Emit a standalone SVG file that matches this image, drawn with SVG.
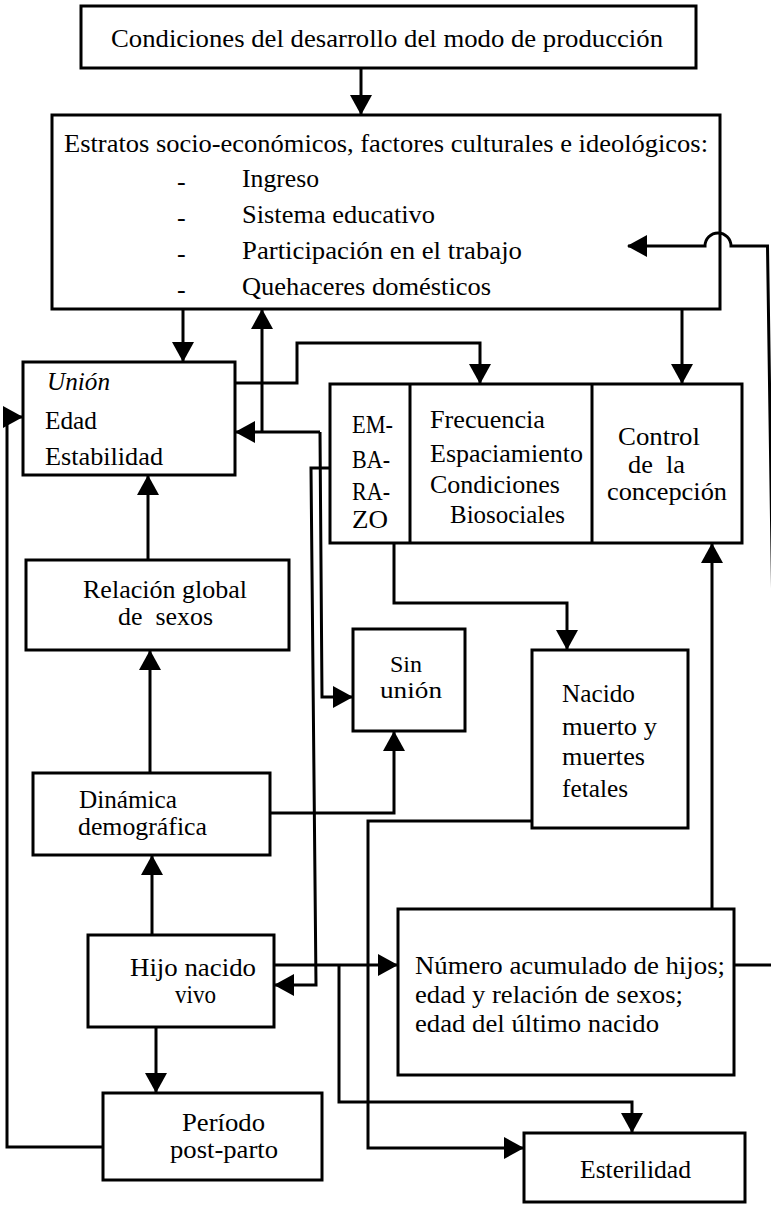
<svg xmlns="http://www.w3.org/2000/svg" width="771" height="1205" viewBox="0 0 771 1205" font-family="Liberation Serif, DejaVu Serif, serif">
<style>
.box{fill:#fff;stroke:#000;stroke-width:3}
.ln{fill:none;stroke:#000;stroke-width:3;stroke-linejoin:miter}
.ar{marker-end:url(#ah)}
text{font-family:"Liberation Serif","DejaVu Serif",serif;font-size:26px;fill:#000}
.t{font-size:25px}
.s{font-size:24px}
.it{font-style:italic}
</style>
<defs>
<marker id="ah" viewBox="0 0 20 22" refX="19" refY="11" markerWidth="20" markerHeight="22" markerUnits="userSpaceOnUse" orient="auto">
<path d="M0,0 L20,11 L0,22 z" fill="#000"/>
</marker>
</defs>

<g id="condiciones">
<rect class="box" x="81" y="6" width="615" height="62"/>
<text x="111" y="47" textLength="552" lengthAdjust="spacingAndGlyphs">Condiciones del desarrollo del modo de producción</text>
</g>

<g id="estratos">
<rect class="box" x="52" y="115" width="668" height="194"/>
<text x="64" y="152" textLength="644" lengthAdjust="spacingAndGlyphs">Estratos socio-económicos, factores culturales e ideológicos:</text>
<text x="177" y="190">-</text>
<text x="242" y="187" textLength="77" lengthAdjust="spacingAndGlyphs">Ingreso</text>
<text x="177" y="226">-</text>
<text x="242" y="223" textLength="193" lengthAdjust="spacingAndGlyphs">Sistema educativo</text>
<text x="177" y="262">-</text>
<text x="242" y="259" textLength="280" lengthAdjust="spacingAndGlyphs">Participación en el trabajo</text>
<text x="177" y="298">-</text>
<text x="242" y="295" textLength="249" lengthAdjust="spacingAndGlyphs">Quehaceres domésticos</text>
</g>

<g id="union">
<rect class="box" x="23" y="362" width="212" height="113"/>
<text class="it" x="47" y="390" textLength="63" lengthAdjust="spacingAndGlyphs">Unión</text>
<text x="45" y="429" textLength="52" lengthAdjust="spacingAndGlyphs">Edad</text>
<text x="45" y="465" textLength="118" lengthAdjust="spacingAndGlyphs">Estabilidad</text>
</g>

<g id="embarazo">
<rect class="box" x="330" y="384" width="412" height="159"/>
<line class="ln" x1="410" y1="384" x2="410" y2="543"/>
<line class="ln" x1="592" y1="384" x2="592" y2="543"/>
<text class="t" x="352" y="433" textLength="41" lengthAdjust="spacingAndGlyphs">EM-</text>
<text class="t" x="352" y="468" textLength="38" lengthAdjust="spacingAndGlyphs">BA-</text>
<text class="t" x="352" y="500" textLength="38" lengthAdjust="spacingAndGlyphs">RA-</text>
<text class="t" x="352" y="528" textLength="36" lengthAdjust="spacingAndGlyphs">ZO</text>
</g>

<g id="frecuencia">
<text x="430" y="428" textLength="115" lengthAdjust="spacingAndGlyphs">Frecuencia</text>
<text x="430" y="462" textLength="153" lengthAdjust="spacingAndGlyphs">Espaciamiento</text>
<text x="430" y="493" textLength="130" lengthAdjust="spacingAndGlyphs">Condiciones</text>
<text x="450" y="523" textLength="115" lengthAdjust="spacingAndGlyphs">Biosociales</text>
</g>

<g id="control">
<text x="618" y="445" textLength="82" lengthAdjust="spacingAndGlyphs">Control</text>
<text x="628" y="473" xml:space="preserve" textLength="57" lengthAdjust="spacingAndGlyphs">de  la</text>
<text x="607" y="500" textLength="120" lengthAdjust="spacingAndGlyphs">concepción</text>
</g>

<g id="relacion">
<rect class="box" x="26" y="560" width="263" height="90"/>
<text x="83" y="598" textLength="164" lengthAdjust="spacingAndGlyphs">Relación global</text>
<text x="118" y="625" xml:space="preserve" textLength="95" lengthAdjust="spacingAndGlyphs">de  sexos</text>
</g>

<g id="sinunion">
<rect class="box" x="353" y="629" width="112" height="102"/>
<text class="s" x="390" y="672" textLength="32" lengthAdjust="spacingAndGlyphs">Sin</text>
<text class="s" x="380" y="698" textLength="62" lengthAdjust="spacingAndGlyphs">unión</text>
</g>

<g id="nacido">
<rect class="box" x="532" y="650" width="156" height="178"/>
<text x="562" y="702" textLength="73" lengthAdjust="spacingAndGlyphs">Nacido</text>
<text x="562" y="735" textLength="95" lengthAdjust="spacingAndGlyphs">muerto y</text>
<text x="562" y="765" textLength="83" lengthAdjust="spacingAndGlyphs">muertes</text>
<text x="562" y="797" textLength="66" lengthAdjust="spacingAndGlyphs">fetales</text>
</g>

<g id="dinamica">
<rect class="box" x="33" y="773" width="237" height="82"/>
<text x="79" y="808" textLength="98" lengthAdjust="spacingAndGlyphs">Dinámica</text>
<text x="78" y="835" textLength="129" lengthAdjust="spacingAndGlyphs">demográfica</text>
</g>

<g id="numero">
<rect class="box" x="398" y="909" width="336" height="166"/>
<text x="415" y="974" textLength="310" lengthAdjust="spacingAndGlyphs">Número acumulado de hijos;</text>
<text x="415" y="1003" textLength="268" lengthAdjust="spacingAndGlyphs">edad y relación de sexos;</text>
<text x="415" y="1032" textLength="244" lengthAdjust="spacingAndGlyphs">edad del último nacido</text>
</g>

<g id="hijo">
<rect class="box" x="88" y="935" width="186" height="92"/>
<text x="130" y="976" textLength="126" lengthAdjust="spacingAndGlyphs">Hijo nacido</text>
<text x="175" y="1003" textLength="41" lengthAdjust="spacingAndGlyphs">vivo</text>
</g>

<g id="periodo">
<rect class="box" x="103" y="1093" width="219" height="87"/>
<text x="182" y="1131" textLength="83" lengthAdjust="spacingAndGlyphs">Período</text>
<text x="170" y="1158" textLength="108" lengthAdjust="spacingAndGlyphs">post-parto</text>
</g>

<g id="esterilidad">
<rect class="box" x="524" y="1133" width="221" height="69"/>
<text x="580" y="1178" textLength="111" lengthAdjust="spacingAndGlyphs">Esterilidad</text>
</g>

<g id="connectors">
<path class="ln ar" d="M361,68 L361,114"/>
<path class="ln ar" d="M183,309 L183,361"/>
<path class="ln ar" d="M682,309 L682,383"/>
<path class="ln ar" d="M262,432 L262,310"/>
<path class="ln ar" d="M320,432 L236,432"/>
<path class="ln ar" d="M320,432 L322,697 L352,697"/>
<path class="ln ar" d="M235,383 L297,383 L297,343 L480,343 L480,383"/>
<path class="ln ar" d="M330,468 L311,468 L316,985 L275,985"/>
<path class="ln ar" d="M394,543 L394,603 L567,603 L567,649"/>
<path class="ln ar" d="M712,909 L712,544"/>
<path class="ln ar" d="M734,965 L778,965 L767.5,246 L731,246 A13,13 0 0 0 705,246 L628,246"/>
<path class="ln ar" d="M148,560 L148,476"/>
<path class="ln ar" d="M150,773 L150,651"/>
<path class="ln ar" d="M270,813 L394,813 L394,732"/>
<path class="ln ar" d="M152,935 L152,856"/>
<path class="ln ar" d="M156,1027 L156,1092"/>
<path class="ln ar" d="M274,965 L397,965"/>
<path class="ln ar" d="M339,965 L339,1102 L632,1102 L632,1132"/>
<path class="ln ar" d="M532,821 L368,821 L368,1148 L523,1148"/>
<path class="ln ar" d="M103,1147 L7,1147 L7,417 L22,417"/>
</g>
</svg>
